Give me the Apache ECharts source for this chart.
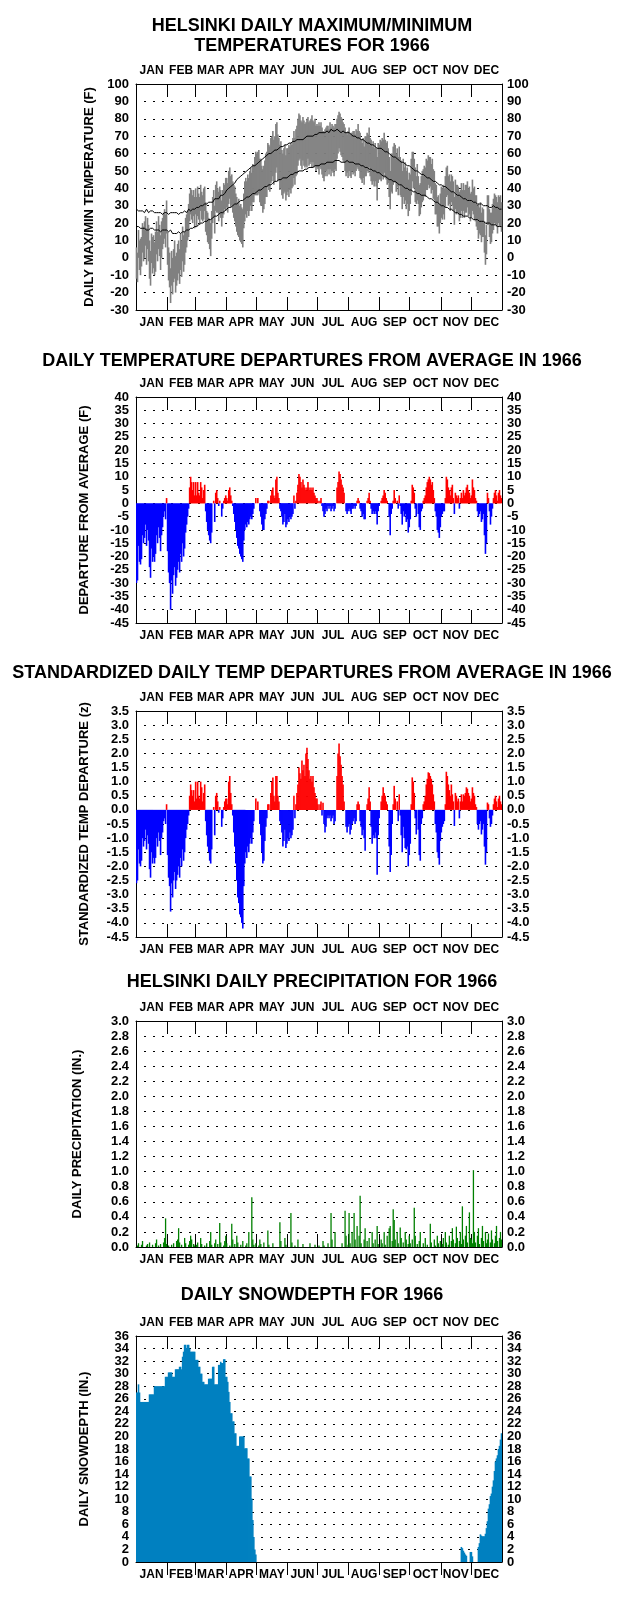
<!DOCTYPE html>
<html><head><meta charset="utf-8">
<script src="https://cdn.jsdelivr.net/npm/echarts@6/dist/echarts.min.js"></script>
<style>html,body{margin:0;padding:0;background:#fff}#c{width:624px;height:1604px}</style>
</head><body><div id="c"></div>
<script>
const monthNames = ['JAN','FEB','MAR','APR','MAY','JUN','JUL','AUG','SEP','OCT','NOV','DEC'];
const monthLengths = [31,28,31,30,31,30,31,31,30,31,30,31];
// Snow-depth tick labels (inches)
const snowTicks = ['0','2','4','6','8','10','12','14','16','18','20','22','24','26','28','30','32','34','36'];

// Daily maximum temperature (F), one line per month
const tmax = [
6,3,16,10,11,12,20,18,21,24,17,23,19,10,4,14,12,13,9,15,21,15,24,19,13,21,23,26,28,25,33,
15,6,3,-6,4,0,5,10,1,3,8,10,5,14,10,18,13,15,23,25,27,31,37,40,39,36,39,35,
40,35,41,37,35,42,38,36,40,41,32,27,26,23,22,20,27,35,39,30,42,44,40,38,41,39,33,39,43,42,46,
46,43,50,52,47,48,44,42,41,37,35,32,34,30,31,29,28,37,44,46,44,48,46,50,52,49,54,53,58,61,
60,61,62,57,57,53,51,53,56,60,61,66,65,64,69,70,73,68,70,77,78,71,69,65,67,62,60,63,65,59,63,
63,65,64,66,65,69,73,69,74,76,80,83,82,79,78,81,79,77,78,80,81,78,79,80,82,79,78,80,76,77,
76,78,76,78,75,73,72,74,75,76,76,74,78,75,77,76,75,77,77,80,82,84,83,81,80,78,77,75,72,71,73,
75,71,72,72,73,73,71,74,73,77,73,72,68,66,69,64,70,70,72,71,75,69,68,64,67,63,66,63,58,66,65,
68,67,69,68,72,68,66,67,63,58,50,60,60,64,66,65,60,63,58,64,58,56,50,57,52,55,50,52,45,49,
48,57,61,61,57,52,47,54,47,42,43,47,50,51,53,52,57,56,59,58,58,54,57,51,50,43,42,35,36,31,37,
41,40,42,40,47,52,53,47,48,44,48,47,44,35,45,42,42,41,38,39,43,39,43,39,42,42,44,40,41,37,
38,45,40,41,36,36,30,31,29,32,26,29,28,21,13,19,36,36,28,26,26,31,34,37,36,35,32,36,35,36,32
];
// Daily minimum temperature (F)
const tmin = [
-12,-14,0,-7,-10,-5,3,-2,0,7,-4,5,-2,-12,-16,-3,-9,-6,-10,-8,2,-2,5,1,-7,0,5,8,11,6,14,
-4,-13,-17,-26,-16,-21,-14,-12,-20,-16,-13,-9,-15,-7,-11,-2,-8,-4,3,6,10,12,21,25,22,20,24,17,
25,18,24,22,19,27,22,21,22,27,15,13,9,8,5,1,11,20,23,14,27,26,26,21,25,23,18,23,25,28,27,
29,26,31,34,29,30,26,23,21,18,15,13,12,10,9,8,6,17,21,25,23,27,24,27,30,27,32,32,36,36,
36,36,37,32,30,30,26,28,31,35,35,41,39,38,43,44,47,42,44,49,52,44,45,39,40,36,34,37,38,33,36,
38,35,39,37,40,41,46,42,47,48,53,56,57,53,51,56,53,52,53,52,57,53,54,55,52,55,52,53,50,52,
51,48,52,51,48,46,44,47,50,47,51,48,51,47,50,49,47,51,50,57,60,63,61,59,58,56,55,50,47,49,46,
50,47,46,50,48,49,47,50,52,51,50,46,45,43,46,42,47,47,50,49,52,47,44,42,44,41,44,41,33,43,45,
45,44,47,45,49,46,45,42,43,35,28,38,37,42,44,43,38,41,36,42,36,35,28,35,31,33,28,31,24,27,
31,36,44,40,40,32,31,33,31,24,25,29,32,33,36,35,39,39,42,40,41,37,39,34,33,25,25,18,18,14,20,
23,22,25,22,29,35,36,30,31,27,32,30,27,19,28,25,26,25,21,23,27,23,27,23,26,26,29,24,25,21,
23,27,25,22,21,18,16,11,14,13,9,12,12,3,-4,2,19,19,12,8,9,14,16,20,19,18,14,20,18,18,15
];
// Normal daily maximum (F)
const normMax = [
28,27,27,28,27,26,27,27,26,27,28,27,26,26,27,26,27,26,26,27,26,25,26,27,26,26,25,26,26,27,26,
26,25,26,26,25,26,27,26,25,26,26,25,26,26,27,26,26,27,27,26,27,28,27,27,28,28,27,28,
28,29,28,29,29,30,29,30,30,31,30,31,31,32,31,32,33,32,33,34,33,34,35,34,35,36,35,36,37,37,38,
39,39,40,40,41,42,42,43,43,44,45,45,46,46,47,47,48,48,49,49,50,50,51,51,52,52,53,52,53,54,
54,55,55,56,56,57,57,57,58,58,59,59,60,60,60,61,61,61,62,62,62,63,63,63,64,63,64,64,65,64,65,
65,66,65,66,66,67,66,67,67,68,67,68,68,68,69,68,69,69,69,70,69,70,70,70,71,70,71,71,70,71,
71,72,71,72,72,72,73,72,73,73,73,72,73,74,73,73,74,73,73,74,73,73,73,72,73,73,72,72,72,72,72,
72,71,71,71,70,71,70,70,69,70,69,69,68,68,68,67,67,67,66,66,66,65,65,65,65,64,64,64,63,64,63,
63,63,62,62,62,61,61,61,60,60,60,59,59,58,58,58,57,57,57,56,56,55,55,55,54,54,54,53,53,53,
52,52,52,51,51,50,50,50,49,49,49,48,48,48,47,47,47,46,46,46,45,45,45,44,44,44,43,43,43,42,42,
42,42,41,41,41,40,40,39,39,39,38,38,38,37,37,37,36,36,36,35,35,35,34,34,34,34,33,33,33,33,
33,32,32,32,32,31,31,32,31,31,31,31,30,31,30,30,30,30,29,30,29,29,30,29,29,28,29,28,28,29,28
];
// Normal daily minimum (F)
const normMin = [
18,17,18,17,17,18,17,16,17,17,16,17,16,16,17,16,17,16,16,15,16,17,16,16,15,16,16,15,16,16,16,
16,15,15,16,15,14,15,14,15,14,14,15,15,14,15,15,16,15,16,16,17,16,17,17,18,17,18,18,
18,18,19,19,19,20,19,20,20,21,21,21,22,22,22,22,23,23,23,24,24,24,25,25,25,26,26,26,27,27,27,
28,28,29,29,29,30,30,30,31,31,31,32,32,32,33,33,33,34,34,34,35,35,35,36,36,36,37,37,37,37,
38,38,39,39,39,40,40,40,41,41,41,42,42,42,42,43,43,43,44,44,44,44,45,45,45,45,46,46,46,46,46,
47,47,47,48,48,48,48,49,49,49,49,50,50,50,50,50,51,51,51,51,52,52,52,52,52,52,53,53,53,53,
53,53,54,54,54,54,54,54,55,55,55,55,55,55,55,55,55,56,55,56,55,56,56,55,56,55,56,55,55,56,55,
55,55,55,55,55,54,54,54,54,54,54,53,53,53,53,53,52,52,52,52,51,51,51,51,50,50,50,50,49,49,49,
48,48,48,47,47,47,46,46,46,45,45,45,44,44,44,44,43,43,43,42,42,42,41,41,41,40,40,40,40,39,
39,39,39,38,38,38,38,37,37,37,37,36,36,36,36,36,35,35,35,34,34,34,33,33,33,32,32,32,31,31,31,
30,30,30,29,29,29,29,28,28,28,28,27,27,27,26,26,26,26,25,25,25,25,24,24,24,24,24,23,23,23,
23,23,22,22,22,22,22,21,21,21,21,21,21,20,20,20,20,20,20,19,19,19,19,19,19,18,18,19,18,18,18
];
// Daily temperature departure from average (F)
const departure = [
-30,-29,-16,-22,-23,-21,-12,-15,-13,-8,-16,-10,-14,-24,-28,-17,-22,-20,-22,-19,-12,-15,-9,-13,-18,-12,-9,-5,-3,-6,2,
-18,-26,-30,-40,-29,-34,-27,-24,-31,-28,-25,-22,-26,-19,-22,-15,-20,-17,-11,-8,-5,-2,6,10,8,5,8,3,
8,3,8,4,3,8,6,2,5,7,-3,-7,-10,-12,-14,-15,-11,0,1,-7,4,5,2,-1,1,0,-5,-2,1,2,3,
2,1,5,6,3,1,-1,-4,-7,-10,-13,-16,-17,-19,-20,-21,-22,-14,-10,-8,-9,-7,-8,-6,-5,-6,-4,-2,0,2,
0,2,0,-3,-5,-8,-10,-10,-6,-4,-2,1,1,0,3,5,6,3,2,9,10,4,2,-2,-3,-5,-8,-7,-4,-9,-8,
-6,-7,-5,-6,-5,-4,3,-2,1,4,7,11,10,8,6,9,7,6,5,6,8,6,5,6,5,6,4,3,2,2,
1,0,1,2,-1,-3,-5,-4,-2,-3,-1,-2,-1,-3,-2,-1,-3,-2,0,6,8,12,11,9,7,6,4,0,-3,-4,-3,
-2,-3,-4,-2,-2,-1,-2,-1,1,2,1,-2,-3,-5,-4,-6,-6,0,1,2,4,1,-2,-4,-3,-4,-3,-4,-8,-3,-1,
0,1,2,3,5,4,2,1,0,-5,-12,-4,-2,1,5,2,0,1,-2,3,-1,-4,-8,-3,-5,-4,-7,-6,-11,-9,
-6,1,7,6,4,-2,-5,0,-4,-9,-10,-3,-2,1,2,3,6,8,9,10,9,7,8,5,2,-3,-5,-10,-11,-13,-9,
-5,-4,-3,-3,2,10,9,6,5,3,6,7,2,-4,4,3,2,3,-2,2,4,2,5,3,4,6,7,5,4,2,
3,9,6,5,2,1,-3,-5,-4,-3,-7,-6,-4,-12,-19,-15,4,2,-3,-8,-5,-2,2,4,5,3,1,4,5,3,2
];
// Standardized daily temperature departure (z)
const zDeparture = [
-2.6,-2.5,-1.4,-1.9,-2.0,-1.8,-1.0,-1.3,-1.1,-0.7,-1.4,-0.9,-1.2,-2.1,-2.4,-1.5,-1.9,-1.7,-1.9,-1.7,-1.0,-1.3,-0.8,-1.1,-1.6,-1.0,-0.8,-0.4,-0.3,-0.5,0.2,
-1.6,-2.4,-2.7,-3.6,-2.6,-3.1,-2.5,-2.2,-2.8,-2.5,-2.3,-2.0,-2.4,-1.7,-2.0,-1.4,-1.8,-1.5,-1.0,-0.7,-0.5,-0.2,0.5,0.9,0.7,0.5,0.7,0.3,
1.0,0.4,1.0,0.5,0.4,1.0,0.8,0.3,0.6,0.9,-0.4,-0.9,-1.3,-1.5,-1.8,-1.9,-1.4,0,0.1,-0.9,0.5,0.6,0.3,-0.1,0.1,0,-0.6,-0.3,0.1,0.3,0.4,
0.4,0.2,1.0,1.2,0.6,0.2,-0.2,-0.8,-1.3,-1.9,-2.5,-3.1,-3.3,-3.7,-3.8,-4.0,-4.2,-2.7,-1.9,-1.5,-1.7,-1.3,-1.5,-1.2,-1.0,-1.2,-0.8,-0.4,0,0.4,
0,0.3,0,-0.5,-0.9,-1.5,-1.9,-1.8,-1.1,-0.6,-0.3,0.2,0.2,0,0.6,1.0,1.15,0.5,0.3,1.2,1.2,0.5,0.3,-0.4,-0.5,-0.8,-1.3,-1.1,-0.7,-1.35,-1.2,
-1.0,-1.1,-0.8,-1.0,-0.9,-0.7,0.5,-0.3,0.2,0.6,0.9,1.5,1.3,1.1,1.75,1.4,1.6,1.2,2.0,2.2,1.8,1.4,1.1,1.2,1.0,1.2,0.8,0.6,0.4,0.4,
0.2,0,0.2,0.3,-0.2,0.25,-0.5,-0.8,-0.6,-0.3,-0.2,-0.3,-0.2,-0.4,-0.3,-0.2,-0.5,-0.4,0,1.2,2.0,2.35,1.9,1.6,1.2,0.9,0.3,0,-0.6,-0.8,-0.6,
-0.5,-0.87,-0.7,-0.5,-0.4,-0.3,-0.5,-0.4,0.2,0.3,0.2,-0.4,-0.6,-0.9,-0.7,-1.0,-1.45,0,0.2,0.4,0.8,0.3,-0.6,-1.2,-0.9,-1.0,-0.8,-1.0,-2.3,-0.9,-0.3,
0,0.3,0.5,0.8,0.6,0.5,0.3,0.2,0,-1.3,-2.2,-1.6,-0.5,0.2,0.85,0.4,0,0.3,-0.4,0.55,-0.2,-0.9,-1.5,-0.6,-1.0,-1.35,-1.4,-1.3,-2.0,-1.6,
-1.2,0.2,1.15,1.0,0.6,-0.3,-0.87,0,-0.7,-1.6,-1.8,-0.5,-0.3,0.2,0.3,0.5,0.9,1.1,1.33,1.3,1.2,1.1,0.9,0.55,0.3,-0.5,-0.8,-1.5,-1.7,-1.94,-1.1,
-0.8,-0.6,-0.5,-0.4,0.2,1.35,1.2,0.9,0.7,0.5,0.9,0.55,0.3,-0.57,0.6,0.5,0.3,0.4,-0.3,0.3,0.55,0.3,0.55,0.5,0.6,0.8,0.75,0.6,0.5,0.3,
0.4,0.8,0.6,0.5,0.2,0.1,-0.5,-0.7,-0.5,-0.4,-0.87,-0.7,-0.5,-1.3,-1.94,-1.5,0.26,0.2,-0.3,-0.6,-0.5,-0.2,0.2,0.4,0.5,0.3,0.1,0.4,0.5,0.3,0.2
];
// Daily precipitation (in.)
const precip = [
0,0.02,0.05,0,0,0.03,0.08,0,0,0,0.02,0.04,0,0.06,0,0,0.03,0,0,0.05,0.1,0,0.02,0,0.04,0,0,0.06,0.12,0.38,0.04,
0,0.02,0,0,0.03,0,0.05,0,0,0.08,0.1,0.25,0.06,0,0.03,0,0,0.12,0.05,0,0,0.03,0.08,0.15,0.1,0,0.04,0.02,
0,0.03,0.06,0,0,0.12,0.04,0,0,0.02,0,0.05,0,0,0.08,0.2,0.03,0,0,0.05,0.1,0,0.04,0,0.32,0.06,0,0,0.02,0.08,0.15,
0.05,0,0,0.02,0,0.31,0.1,0,0.04,0,0.15,0.06,0,0,0.03,0,0.08,0,0,0.02,0.05,0,0.2,0,0,0.66,0.1,0.03,0,0.05,
0,0,0.02,0.1,0.04,0,0,0.06,0,0,0,0.22,0.03,0,0,0,0.05,0,0,0,0,0,0,0.33,0.08,0,0,0,0.12,0.03,0,
0,0,0,0.45,0.06,0,0,0.02,0,0,0.1,0,0,0,0,0.04,0,0,0,0,0,0,0.05,0,0,0,0,0.03,0,0,
0,0.02,0,0,0,0.08,0.02,0,0,0,0.05,0,0,0.45,0.1,0,0,0.2,0,0,0,0,0,0,0.05,0,0,0.48,0.15,0,0.03,
0.45,0.05,0,0.2,0,0.45,0.1,0,0.28,0,0.15,0.68,0.05,0,0,0.1,0.25,0,0.08,0,0.12,0,0,0.2,0.05,0,0.1,0,0.28,0.04,0,
0,0.1,0.05,0,0.2,0.03,0,0.15,0,0.25,0.28,0,0.08,0.5,0.36,0.1,0,0.2,0.05,0,0.26,0.12,0,0.06,0,0.2,0.1,0,0.04,0.15,
0.05,0,0.1,0,0.52,0.15,0,0.04,0,0.08,0.2,0,0,0.05,0,0.12,0,0.03,0,0,0.31,0.06,0,0,0.1,0.02,0,0.15,0.05,0,0.08,
0,0.04,0.12,0,0.2,0.06,0,0.03,0.15,0,0.08,0.25,0.1,0,0.05,0.27,0.12,0,0.08,0.2,0.04,0.54,0.1,0,0.15,0.28,0.06,0,0.46,0.12,
0.1,0.05,1.02,0.2,0.06,0,0.15,0.25,0.04,0,0.12,0.28,0.08,0,0.2,0.05,0.1,0.18,0,0.06,0.22,0.1,0,0.05,0.15,0.28,0.08,0,0.12,0.2,0.1
];
// Daily snow depth (in.)
const snow = [
27,27,28.3,27,25.5,25.5,25.5,25.5,25.5,25.5,25.5,25.5,25.5,26.7,26.7,26.7,26.7,26.7,28,28,28,28,28,28,28,28,28,28,28,29.5,29.5,
29.5,30.2,30.2,30.2,30.2,29.5,29.5,29.5,30.7,30.7,30.7,30.7,31.1,31.1,30.7,32.7,33.5,34.6,34.6,34.1,34.6,34.6,34,33.5,33.5,33.5,33.5,33.5,
32.2,32.2,32.2,31.1,31.1,30,30,28.7,28.7,28.3,28.3,28.3,28.3,29.2,29.2,29.2,29.2,31.1,31.1,28.3,28.3,28.3,28.3,31.4,31.4,31.9,31.7,31.7,32.3,32.3,29.5,
29.5,28.7,27.1,25.5,23.7,23.7,22.4,22.4,20.5,20.5,18.5,18.5,18.5,20,20,20,20,20,18.1,18.1,18.1,16.5,16.5,13.6,13.6,10.1,6.7,4,2,1.2,
0,0,0,0,0,0,0,0,0,0,0,0,0,0,0,0,0,0,0,0,0,0,0,0,0,0,0,0,0,0,0,
0,0,0,0,0,0,0,0,0,0,0,0,0,0,0,0,0,0,0,0,0,0,0,0,0,0,0,0,0,0,
0,0,0,0,0,0,0,0,0,0,0,0,0,0,0,0,0,0,0,0,0,0,0,0,0,0,0,0,0,0,0,
0,0,0,0,0,0,0,0,0,0,0,0,0,0,0,0,0,0,0,0,0,0,0,0,0,0,0,0,0,0,0,
0,0,0,0,0,0,0,0,0,0,0,0,0,0,0,0,0,0,0,0,0,0,0,0,0,0,0,0,0,0,
0,0,0,0,0,0,0,0,0,0,0,0,0,0,0,0,0,0,0,0,0,0,0,0,0,0,0,0,0,0,0,
0,0,0,0,0,0,0,0,0,0,0,0,0,0,0,0,0,0,0,0,2.4,2.2,1.8,1.5,1.2,1.0,0,0,0,1.6,
1.6,0.9,0,0,0,0,0,2.4,3,4.4,4.2,4.1,4.1,4.1,4.5,5.4,6.5,8.5,9.2,10.5,10.9,12,13,14.5,16,16.5,17,18,18.5,19.5,20.5
];

const FONT = '"Liberation Sans", Arial, Helvetica, sans-serif';
const starts = [0];
monthLengths.forEach((l, i) => starts.push(starts[i] + l));
const mids = monthLengths.map((l, i) => starts[i] + l / 2);
const days = Array.from({length: 365}, (_, i) => i + 1);
function monthOf(v) { for (let i = 0; i < 12; i++) if (v >= starts[i] && v < starts[i + 1]) return monthNames[i]; return ''; }

const panels = [
  {top: 84, min: -30, max: 100, interval: 10, name: 'DAILY MAX/MIN TEMPERATURE (F)', gap: 38, dec: 0},
  {top: 397, min: -45, max: 40, interval: 5, name: 'DEPARTURE FROM AVERAGE (F)', gap: 45, dec: 0},
  {top: 711, min: -4.5, max: 3.5, interval: 0.5, name: 'STANDARDIZED TEMP DEPARTURE (z)', gap: 45, dec: 1},
  {top: 1021, min: 0, max: 3, interval: 0.2, name: 'DAILY PRECIPITATION (IN.)', gap: 52, dec: 1},
  {top: 1336, min: 0, max: 36, interval: 2, name: 'DAILY SNOWDEPTH (IN.)', gap: 45, dec: 0, catLabels: snowTicks}
];
const H = 226, LEFT = 136, W = 366;
const lab = {fontFamily: FONT, fontWeight: 'bold', fontSize: 13, color: '#000',
             showMinLabel: true, showMaxLabel: true, hideOverlap: false};
const blackLine = {show: true, onZero: false, lineStyle: {color: '#000', width: 1}};

const grid = [], xAxis = [], yAxis = [], labelAxes = [];
panels.forEach((p, g) => {
  grid.push({left: LEFT, width: W, top: p.top, height: H, containLabel: false});
  xAxis.push({type: 'category', gridIndex: g, data: days, show: false, boundaryGap: true});
  ['top', 'bottom'].forEach(pos => {
    xAxis.push({
      type: 'value', gridIndex: g, position: pos, min: 0, max: 365,
      axisLine: blackLine,
      axisTick: {show: true, inside: !(g === 4 && pos === 'bottom'), length: 13,
                 customValues: starts.slice(1, 12), lineStyle: {color: '#000', width: 1}},
      axisLabel: {customValues: mids, formatter: v => monthOf(v), margin: 7,
                  fontFamily: FONT, fontWeight: 'bold', fontSize: 12, color: '#000'},
      splitLine: {show: false}
    });
  });
  const fmt = v => v.toFixed(p.dec);
  const useCat = !!p.catLabels;
  yAxis.push({
    type: 'value', gridIndex: g, position: 'left', min: p.min, max: p.max, interval: p.interval,
    axisLine: blackLine, axisTick: {show: false},
    axisLabel: Object.assign({formatter: fmt, margin: 7, show: !useCat}, lab),
    splitLine: {show: true, lineStyle: {color: '#000', width: 1, type: [2, 7], dashOffset: -8}},
    name: p.name, nameLocation: 'middle', nameRotate: 90, nameGap: p.gap,
    nameTextStyle: {fontFamily: FONT, fontWeight: 'bold', fontSize: 13, color: '#000'}
  });
  yAxis.push({
    type: 'value', gridIndex: g, position: 'right', min: p.min, max: p.max, interval: p.interval,
    axisLine: blackLine, axisTick: {show: false},
    axisLabel: Object.assign({formatter: fmt, margin: 5, show: !useCat}, lab),
    splitLine: {show: false}
  });
  if (useCat) {
    ['left', 'right'].forEach(pos => labelAxes.push({
      type: 'category', gridIndex: g, position: pos, data: p.catLabels, boundaryGap: false,
      axisLine: {show: false, onZero: false}, axisTick: {show: false}, splitLine: {show: false},
      axisLabel: Object.assign({}, lab, {interval: 0, margin: pos === 'left' ? 7 : 5})
    }));
  }
});
labelAxes.forEach(a => yAxis.push(a));

const titleStyle = {fontFamily: FONT, fontWeight: 'bold', fontSize: 18, color: '#000', lineHeight: 20, align: 'center'};
const title = [
  {text: 'HELSINKI DAILY MAXIMUM/MINIMUM\nTEMPERATURES FOR 1966', left: 'center', top: 11, textStyle: titleStyle},
  {text: 'DAILY TEMPERATURE DEPARTURES FROM AVERAGE IN 1966', left: 'center', top: 346, textStyle: titleStyle},
  {text: 'STANDARDIZED DAILY TEMP DEPARTURES FROM AVERAGE IN 1966', left: 'center', top: 658, textStyle: titleStyle},
  {text: 'HELSINKI DAILY PRECIPITATION FOR 1966', left: 'center', top: 967, textStyle: titleStyle},
  {text: 'DAILY SNOWDEPTH FOR 1966', left: 'center', top: 1280, textStyle: titleStyle}
];

const rangeData = tmin.map((v, i) => [i, v, tmax[i]]);
const signColor = p => (p.value >= 0 ? '#ff0000' : '#0000ff');

const series = [
  {
    type: 'custom', xAxisIndex: 0, yAxisIndex: 0, data: rangeData, encode: {x: 0, y: [1, 2]},
    renderItem: (params, api) => {
      const lo = api.coord([api.value(0), api.value(1)]);
      const hi = api.coord([api.value(0), api.value(2)]);
      const w = api.size([1, 0])[0];
      return {type: 'rect', shape: {x: hi[0] - w / 2 - 0.3, y: hi[1], width: w + 0.6, height: Math.max(1, lo[1] - hi[1])},
              style: {fill: '#808080'}};
    }
  },
  {type: 'line', xAxisIndex: 0, yAxisIndex: 0, data: normMax, showSymbol: false, symbol: 'none',
   lineStyle: {color: '#000', width: 1}},
  {type: 'line', xAxisIndex: 0, yAxisIndex: 0, data: normMin, showSymbol: false, symbol: 'none',
   lineStyle: {color: '#000', width: 1}},
  {type: 'bar', xAxisIndex: 3, yAxisIndex: 2, data: departure, barWidth: 1.6,
   itemStyle: {color: signColor}},
  {type: 'bar', xAxisIndex: 6, yAxisIndex: 4, data: zDeparture, barWidth: 1.6,
   itemStyle: {color: signColor}},
  {type: 'bar', xAxisIndex: 9, yAxisIndex: 6, data: precip, barWidth: 1.3,
   itemStyle: {color: '#008000'}},
  {type: 'bar', xAxisIndex: 12, yAxisIndex: 8, data: snow, barWidth: 1.6,
   itemStyle: {color: '#0080c0'}}
];

const chart = echarts.init(document.getElementById('c'), null, {renderer: 'canvas'});
chart.setOption({animation: false, backgroundColor: '#fff', title, grid, xAxis, yAxis, series});
</script>
</body></html>
